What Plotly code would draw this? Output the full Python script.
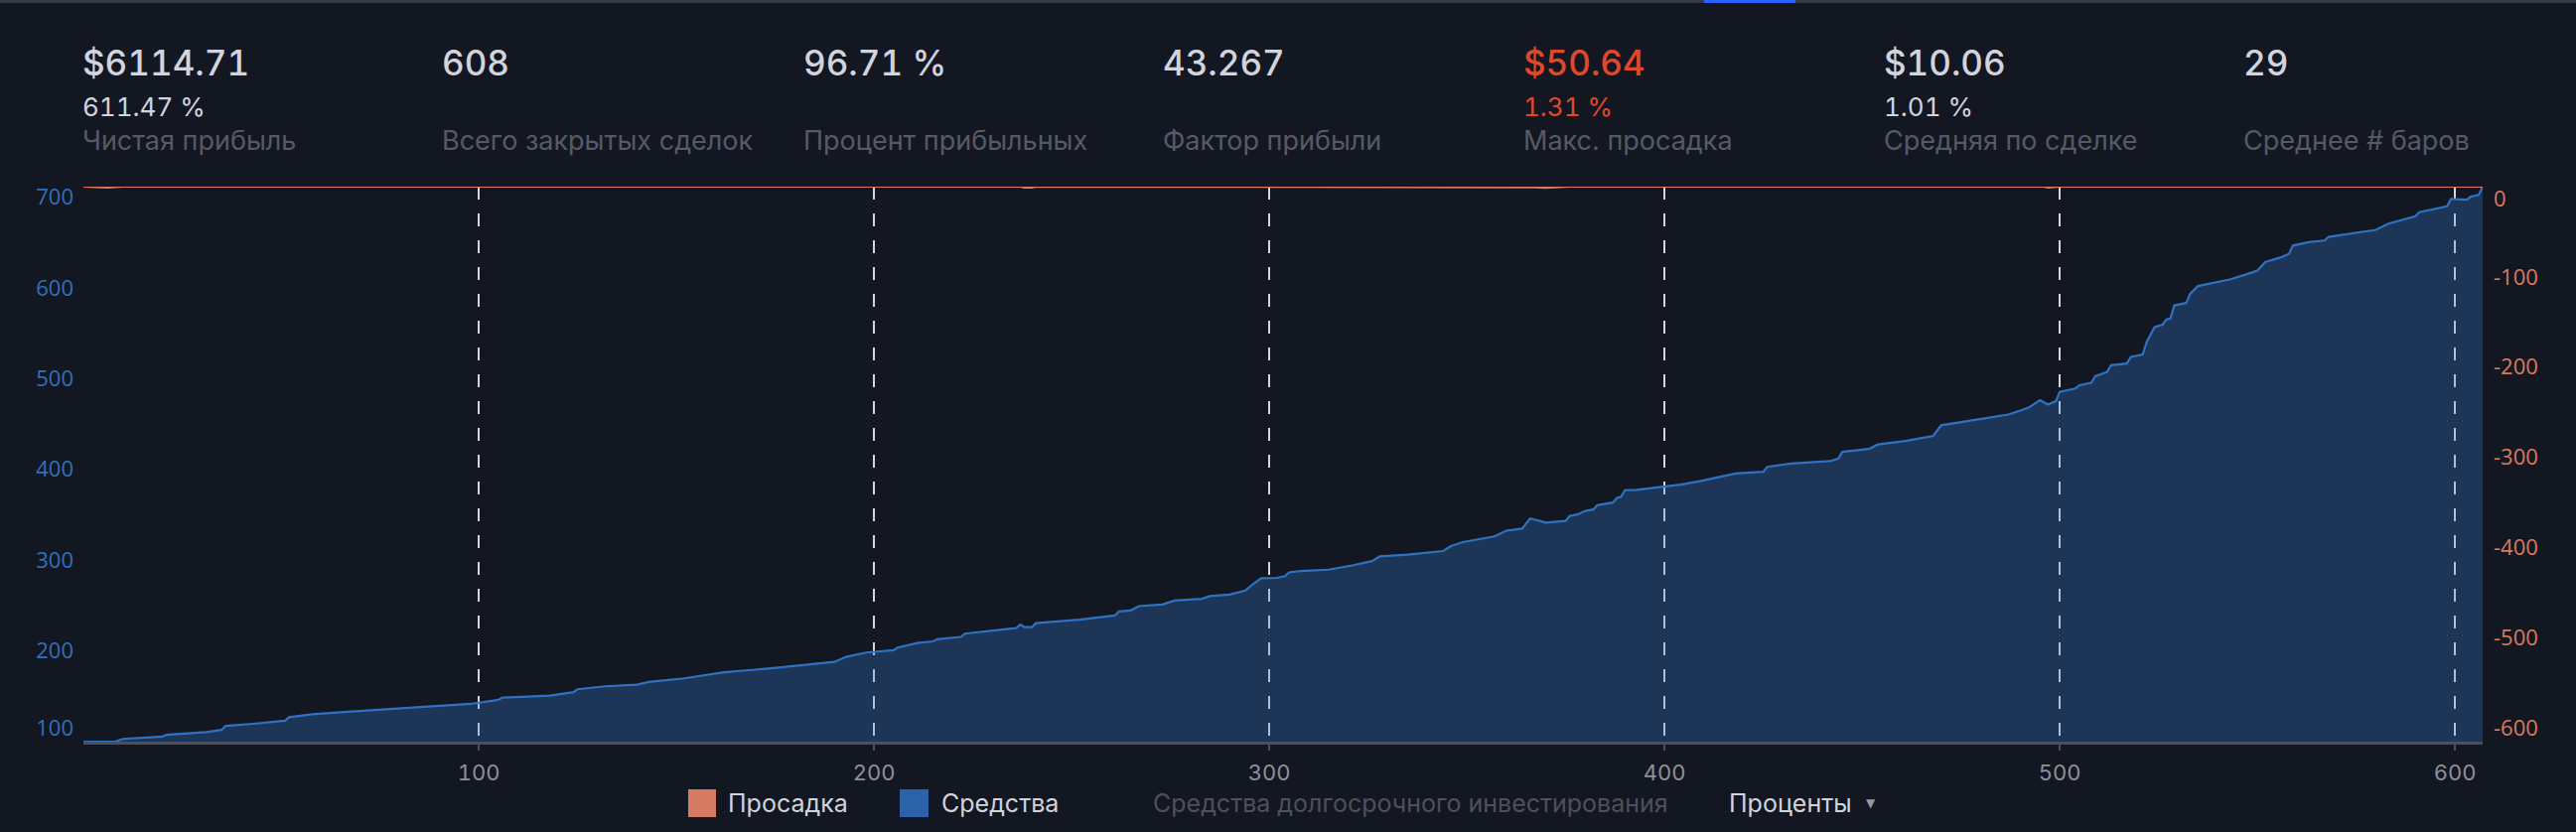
import plotly.graph_objects as go

# ---------------- data ----------------
trade_x = [0, 8, 10, 20, 21, 31, 35, 36, 43, 51, 52, 58, 65, 78, 93, 98, 105, 106, 118, 124,
           125, 132, 140, 143, 152, 155, 162, 174, 190, 193, 198, 205, 206, 211, 215, 216, 222, 223,
           236, 237, 238, 240, 241, 252, 261, 262, 265, 267, 273, 276, 283, 285, 290, 294, 296,
           298, 302, 304, 305, 308, 315, 321, 326, 328, 335, 344, 346, 349, 357, 360, 364, 366,
           370, 375, 376, 378, 380, 382, 383, 387, 388, 389, 390, 393, 400, 404, 409, 414, 418,
           425, 426, 432, 442, 444, 445, 449, 452, 454, 461, 468, 470, 479, 487, 492, 495, 497,
           499, 500, 504, 505, 508, 509, 512, 513, 517, 518, 521, 522, 524, 526, 527, 528, 529,
           532, 533, 535, 540, 543, 547, 550, 552, 556, 558, 559, 563, 567, 568, 574, 580, 583,
           590, 591, 598, 599, 603, 604, 606, 607]
equity_pct = [100, 100, 103, 105.5, 107.6, 110.5, 113, 117.4, 119.7, 123, 127, 130.3, 132.5, 136.2,
              139.8, 141.6, 146, 148.5, 150.7, 154.5, 157.7, 161, 162.8, 165.7, 169.7, 171.5, 176.4,
              180.7, 187.9, 193.4, 198.2, 200.8, 203.7, 208.7, 210.5, 212.8, 215.4, 219, 225.2,
              228.9, 226.3, 226.3, 230.6, 234.4, 239.1, 243.5, 244.6, 249.3, 251.1, 255.5, 257.4,
              260.3, 262.1, 266.6, 273.9, 280, 280.5, 282.3, 286.5, 288, 289.5, 294.2, 298.9,
              304.1, 306, 310, 315.5, 319.9, 326.2, 332.5, 334.7, 345.8, 341.3, 343.2, 348.6,
              350.3, 354.2, 355.8, 360.5, 363.4, 368.5, 369.6, 377, 377.4, 380.7, 383.2, 387,
              391.8, 395.5, 397.3, 402.7, 406.5, 409.1, 412, 419.3, 421.2, 422.9, 427.5, 431.4,
              436.9, 448.6, 454.9, 460.4, 467.7, 476.2, 471.3, 475.1, 485.4, 489.2, 492.7, 495.3,
              502.7, 507.4, 514.8, 516.6, 524, 526.6, 540.4, 556.8, 559.5, 565.3, 566.1, 580.7,
              583.3, 593.5, 602, 606.3, 609.2, 614.5, 619.1, 628.3, 633.7, 637.4, 646.6, 650.3,
              652.1, 656.1, 660.2, 663.9, 670.5, 678.8, 683.3, 689.8, 697.9, 697.2, 700.4, 702.3,
              711.47]

dd_x = [0, 2, 4, 6, 8, 10, 236, 237, 238, 240, 241, 366, 367, 370, 374, 376,
        495, 496, 497, 499, 500, 607]
dd_pct = [0, -0.4, -1.0, -1.0, -0.5, 0, 0, 0, -1.1, -1.1, 0, 0, -0.6, -1.31, -0.8, 0,
          0, 0, -1.0, -0.2, 0, 0]

x_ticks = [100, 200, 300, 400, 500, 600]
eq_ticks = [100, 200, 300, 400, 500, 600, 700]
dd_ticks = [0, -100, -200, -300, -400, -500, -600]
dd_tick_text = ["0", "-100", "-200", "-300", "-400", "-500", "-600"]

stat_values = ["$6114.71", "608", "96.71 %", "43.267", "$50.64", "$10.06", "29"]
stat_subs = ["611.47 %", "", "", "", "1.31 %", "1.01 %", ""]
stat_labels = ["Чистая прибыль", "Всего закрытых сделок", "Процент прибыльных",
               "Фактор прибыли", "Макс. просадка", "Средняя по сделке", "Среднее # баров"]
stat_negative = [False, False, False, False, True, False, False]

legend_names = ["Просадка", "Средства", "Средства долгосрочного инвестирования", "Проценты"]

# ---------------- layout geometry & style ----------------
W, H = 2594, 838
L, R, T, B = 84, 94, 188, 91
PW = W - L - R
PH = H - T - B


def px(x):
    return (x - L) / PW


def py(y):
    return (H - B - y) / PH


def tab(s):
    return '<span style="font-variant-numeric:tabular-nums">' + s + '</span>'


BG = "#131722"
TXT = "#d1d4dc"
MUTED = "#565a66"
RED = "#e0482c"
EQ_LINE = "#2f72c2"
EQ_FILL = "rgba(56,134,222,0.28)"
DD_LINE = "#dc7a60"
HEAD_FONT = "Inter"
EQ_TICK_COLOR = "#3071b9"
DD_TICK_COLOR = "#d97a5e"
EQ_RANGE = [100, 711.47]
DD_RANGE = [-615, 0]

fig = go.Figure()
fig.add_trace(go.Scatter(
    x=trade_x, y=equity_pct, mode="lines", name=legend_names[1],
    line=dict(color=EQ_LINE, width=2.2), fill="tozeroy", fillcolor=EQ_FILL,
    yaxis="y", showlegend=False, hoverinfo="skip"))
fig.add_trace(go.Scatter(
    x=dd_x, y=dd_pct, mode="lines", name=legend_names[0],
    line=dict(color=DD_LINE, width=2.2), yaxis="y2", showlegend=False, hoverinfo="skip"))
# empty helper traces so the edge-label axes are rendered
fig.add_trace(go.Scatter(x=[None], y=[None], yaxis="y3", showlegend=False, hoverinfo="skip"))
fig.add_trace(go.Scatter(x=[None], y=[None], yaxis="y4", showlegend=False, hoverinfo="skip"))

common_y = dict(showgrid=False, zeroline=False, showline=False, ticks="", fixedrange=True,
                tickmode="array")
fig.update_layout(
    width=W, height=H, autosize=False,
    margin=dict(l=L, r=R, t=T, b=B, pad=0),
    paper_bgcolor=BG, plot_bgcolor=BG,
    showlegend=False,
    xaxis=dict(
        range=[0, 607], tickmode="array", tickvals=x_ticks,
        ticktext=[tab(str(v)) for v in x_ticks],
        showgrid=True, gridcolor="#d3d6dd", gridwidth=2, griddash="13px,14px",
        zeroline=False, showline=True, linecolor="#4c4f58", linewidth=3,
        ticks="outside", ticklen=6, tickwidth=2, tickcolor="#4c4f58",
        tickfont=dict(family=HEAD_FONT, size=22, color="#8e919a"),
        ticklabelstandoff=4, fixedrange=True),
    yaxis=dict(range=EQ_RANGE, tickvals=eq_ticks[1:],
               tickfont=dict(family="Open Sans", size=22, color=EQ_TICK_COLOR),
               ticklabelstandoff=9, **common_y),
    yaxis3=dict(range=EQ_RANGE, tickvals=eq_ticks[:1], overlaying="y", side="left",
                tickfont=dict(family="Open Sans", size=22, color=EQ_TICK_COLOR),
                ticklabelstandoff=9, ticklabelshift=-14, **common_y),
    yaxis2=dict(range=DD_RANGE, tickvals=dd_ticks[1:], ticktext=dd_tick_text[1:],
                overlaying="y", side="right",
                tickfont=dict(family="Open Sans", size=22, color=DD_TICK_COLOR),
                ticklabelstandoff=10, **common_y),
    yaxis4=dict(range=DD_RANGE, tickvals=dd_ticks[:1], ticktext=dd_tick_text[:1],
                overlaying="y", side="right",
                tickfont=dict(family="Open Sans", size=22, color=DD_TICK_COLOR),
                ticklabelstandoff=10, ticklabelshift=12, **common_y),
)

annotations = []
shapes = []

# top border with active-tab marker
shapes.append(dict(type="rect", xref="paper", yref="paper", x0=px(0), x1=px(W),
                   y0=py(3), y1=py(0), fillcolor="#363a45", line=dict(width=0), layer="above"))
shapes.append(dict(type="rect", xref="paper", yref="paper", x0=px(1716), x1=px(1808),
                   y0=py(3), y1=py(0), fillcolor="#2962ff", line=dict(width=0), layer="above"))

# statistics header
col_x = [83, 445, 809, 1171, 1534, 1897, 2259]
for i, cx in enumerate(col_x):
    color = RED if stat_negative[i] else TXT
    annotations.append(dict(text=tab(stat_values[i]), x=px(cx - 2), y=py(63),
                            xref="paper", yref="paper",
                            xanchor="left", yanchor="middle", showarrow=False,
                            font=dict(family=HEAD_FONT, size=35, color=color, weight=500)))
    if stat_subs[i]:
        annotations.append(dict(text=tab(stat_subs[i]), x=px(cx - 2), y=py(108),
                                xref="paper", yref="paper",
                                xanchor="left", yanchor="middle", showarrow=False,
                                font=dict(family=HEAD_FONT, size=26, color=color)))
    annotations.append(dict(text=stat_labels[i], x=px(cx - 2), y=py(141), xref="paper", yref="paper",
                            xanchor="left", yanchor="middle", showarrow=False,
                            font=dict(family=HEAD_FONT, size=27, color=MUTED)))

# custom legend
leg_y = 809
shapes.append(dict(type="rect", xref="paper", yref="paper", x0=px(693), x1=px(721),
                   y0=py(823), y1=py(795), fillcolor="#d67b63", line=dict(width=0)))
shapes.append(dict(type="rect", xref="paper", yref="paper", x0=px(906), x1=px(935),
                   y0=py(823), y1=py(795), fillcolor="#2c62a8", line=dict(width=0)))
legend_pos = [(731, TXT), (946, TXT), (1159, "#4e515c"), (1739, TXT)]
for name, (lx, c) in zip(legend_names, legend_pos):
    annotations.append(dict(text=name, x=px(lx), y=py(leg_y), xref="paper", yref="paper",
                            xanchor="left", yanchor="middle", showarrow=False,
                            font=dict(family=HEAD_FONT, size=25, color=c)))
annotations.append(dict(text="▼", x=px(1884), y=py(leg_y), xref="paper", yref="paper",
                        xanchor="center", yanchor="middle", showarrow=False,
                        font=dict(family="DejaVu Sans", size=12, color="#9598a1")))

fig.update_layout(annotations=annotations, shapes=shapes)
fig.write_html("out.html", config=dict(displayModeBar=False))
